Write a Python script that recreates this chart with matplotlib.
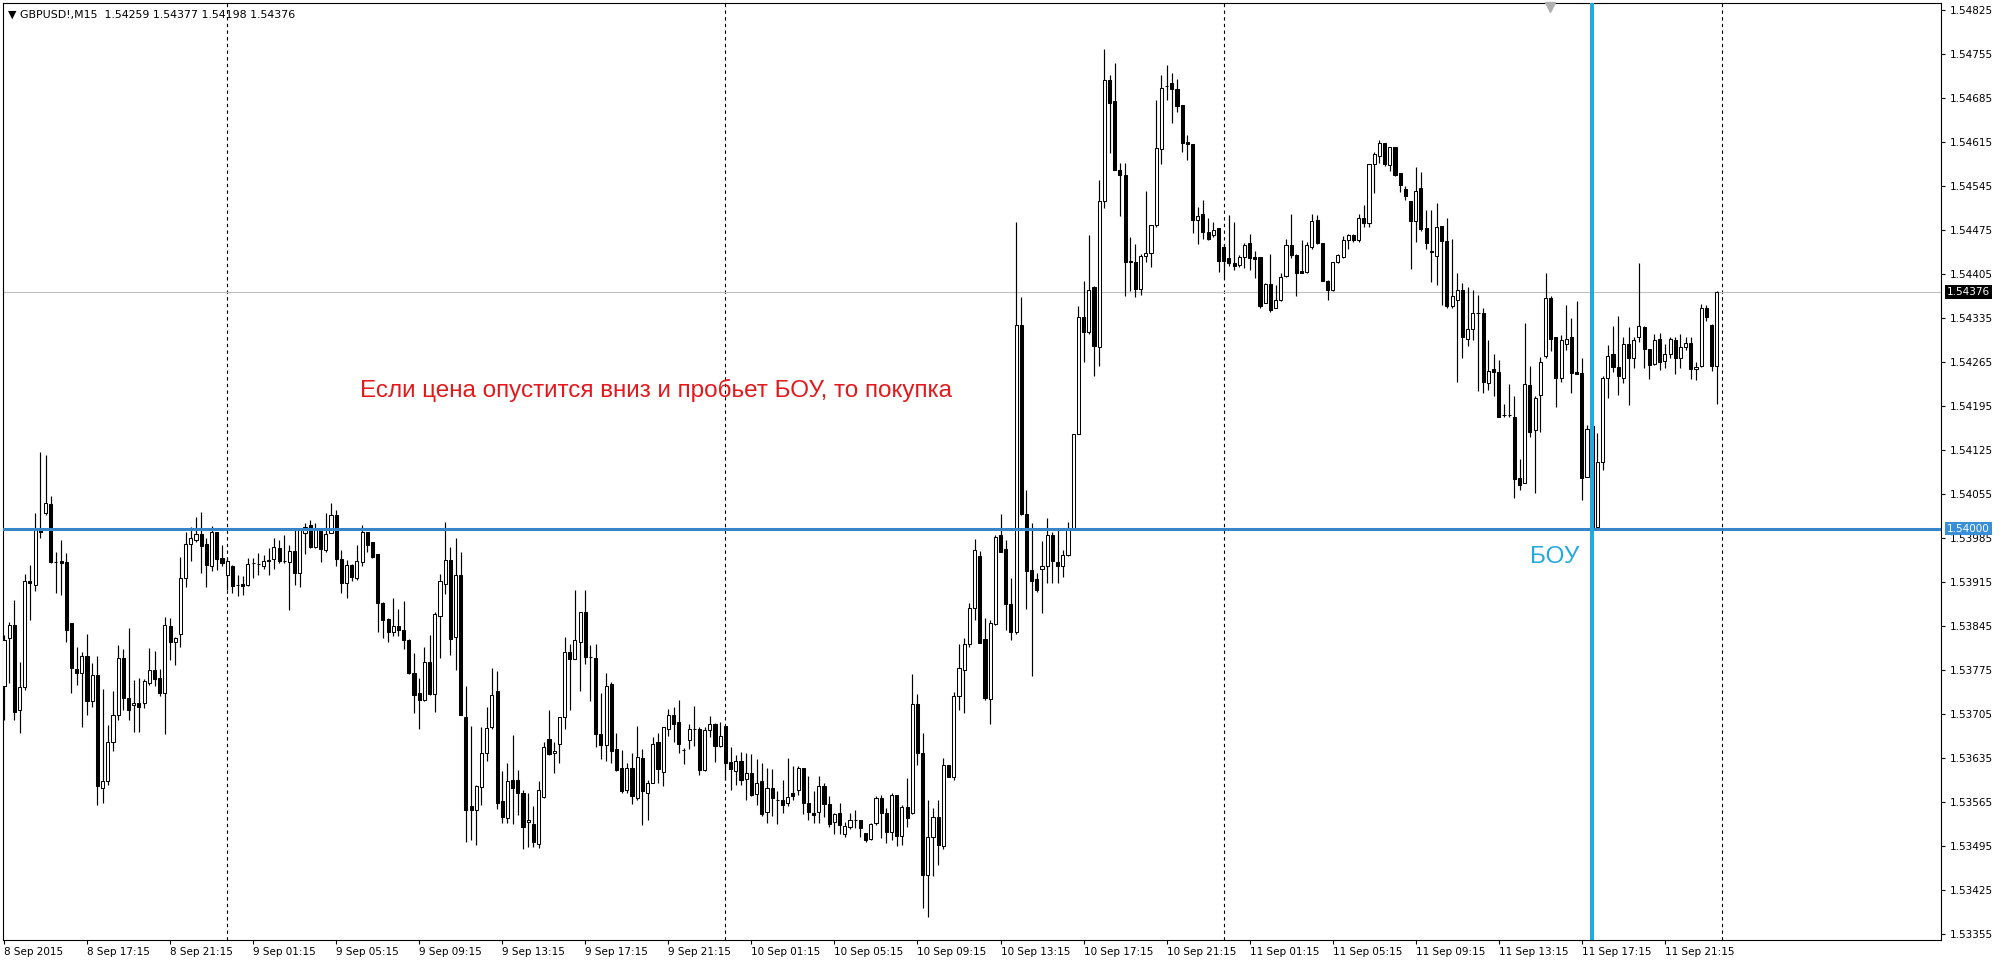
import matplotlib
matplotlib.use("Agg")
import matplotlib.pyplot as plt
import matplotlib.transforms as mtransforms
import numpy as np

header_text = "\u25bc GBPUSD!,M15  1.54259 1.54377 1.54198 1.54376"
note_text = "Если цена опустится вниз и пробьет БОУ, то покупка"
level_text = "БОУ"

opens = [
 1.53749, 1.53826, 1.53847, 1.53711, 1.53748, 1.53917, 1.53910, 1.53998, 1.54024, 1.54039,
 1.53946, 1.53948, 1.53946, 1.53849, 1.53777, 1.53770, 1.53798, 1.53725, 1.53767, 1.53588,
 1.53598, 1.53661, 1.53703, 1.53794, 1.53730, 1.53720, 1.53723, 1.53722, 1.53755, 1.53775,
 1.53762, 1.53738, 1.53845, 1.53819, 1.53833, 1.53921, 1.53975, 1.53982, 1.53992, 1.53975,
 1.53941, 1.53994, 1.53953, 1.53926, 1.53940, 1.53910, 1.53911, 1.53910, 1.53945, 1.53944,
 1.53941, 1.53950, 1.53951, 1.53969, 1.53948, 1.53946, 1.53965, 1.53929, 1.53993, 1.54005,
 1.53971, 1.53998, 1.53966, 1.53993, 1.54022, 1.53951, 1.53913, 1.53942, 1.53921, 1.53946,
 1.53994, 1.53978, 1.53959, 1.53882, 1.53856, 1.53836, 1.53845, 1.53839, 1.53823, 1.53771,
 1.53738, 1.53727, 1.53787, 1.53737, 1.53861, 1.53912, 1.53950, 1.53828, 1.53926, 1.53701,
 1.53559, 1.53552, 1.53589, 1.53643, 1.53684, 1.53742, 1.53566, 1.53540, 1.53600, 1.53600,
 1.53579, 1.53533, 1.53531, 1.53499, 1.53573, 1.53665, 1.53643, 1.53658, 1.53700, 1.53804,
 1.53792, 1.53820, 1.53868, 1.53796, 1.53794, 1.53674, 1.53656, 1.53753, 1.53649, 1.53620,
 1.53584, 1.53620, 1.53571, 1.53635, 1.53580, 1.53596, 1.53660, 1.53613, 1.53681, 1.53704,
 1.53693, 1.53648, 1.53664, 1.53682, 1.53682, 1.53616, 1.53680, 1.53690, 1.53654, 1.53686,
 1.53629, 1.53615, 1.53631, 1.53601, 1.53611, 1.53578, 1.53598, 1.53550, 1.53587, 1.53569,
 1.53568, 1.53563, 1.53579, 1.53585, 1.53619, 1.53564, 1.53548, 1.53550, 1.53590, 1.53562,
 1.53534, 1.53548, 1.53514, 1.53526, 1.53537, 1.53537, 1.53516, 1.53506, 1.53532, 1.53571,
 1.53548, 1.53517, 1.53577, 1.53511, 1.53558, 1.53547, 1.53721, 1.53643, 1.53449, 1.53509,
 1.53542, 1.53495, 1.53624, 1.53605, 1.53734, 1.53775, 1.53817, 1.53873, 1.53957, 1.53824,
 1.53729, 1.53848, 1.53990, 1.53967, 1.53880, 1.53835, 1.54323, 1.54023, 1.53934, 1.53919,
 1.53936, 1.53940, 1.53990, 1.53946, 1.53941, 1.53958, 1.54001, 1.54151, 1.54337, 1.54312,
 1.54384, 1.54289, 1.54520, 1.54713, 1.54679, 1.54570, 1.54562, 1.54426, 1.54424, 1.54381,
 1.54433, 1.54438, 1.54483, 1.54604, 1.54703, 1.54708, 1.54698, 1.54673, 1.54615, 1.54612,
 1.54490, 1.54500, 1.54472, 1.54467, 1.54478, 1.54448, 1.54430, 1.54422, 1.54419, 1.54432,
 1.54454, 1.54432, 1.54432, 1.54359, 1.54389, 1.54350, 1.54364, 1.54401, 1.54451, 1.54435,
 1.54410, 1.54408, 1.54448, 1.54491, 1.54454, 1.54394, 1.54380, 1.54424, 1.54432, 1.54458,
 1.54467, 1.54458, 1.54493, 1.54486, 1.54579, 1.54592, 1.54613, 1.54578, 1.54607, 1.54566,
 1.54539, 1.54521, 1.54489, 1.54541, 1.54477, 1.54442, 1.54433, 1.54481, 1.54457, 1.54354,
 1.54363, 1.54379, 1.54301, 1.54318, 1.54343, 1.54342, 1.54231, 1.54253, 1.54249, 1.54180,
 1.54180, 1.54177, 1.54080, 1.54073, 1.54228, 1.54156, 1.54212, 1.54274, 1.54366, 1.54304,
 1.54240, 1.54293, 1.54304, 1.54249, 1.54248, 1.54082, 1.54163, 1.54003, 1.54106, 1.54240,
 1.54277, 1.54256, 1.54240, 1.54293, 1.54271, 1.54304, 1.54321, 1.54285, 1.54261, 1.54302,
 1.54267, 1.54277, 1.54300, 1.54271, 1.54288, 1.54295, 1.54253, 1.54258, 1.54350, 1.54324,
 1.54259,
]

highs = [
 1.53830, 1.53852, 1.53887, 1.53787, 1.53928, 1.53942, 1.54024, 1.54122, 1.54117, 1.54051,
 1.53963, 1.53982, 1.53961, 1.53850, 1.53812, 1.53804, 1.53833, 1.53786, 1.53798, 1.53745,
 1.53688, 1.53742, 1.53815, 1.53808, 1.53842, 1.53759, 1.53762, 1.53760, 1.53810, 1.53805,
 1.53776, 1.53859, 1.53857, 1.53828, 1.53955, 1.53995, 1.54003, 1.54018, 1.54027, 1.53985,
 1.54004, 1.53995, 1.53974, 1.53955, 1.53942, 1.53926, 1.53924, 1.53953, 1.53953, 1.53961,
 1.53958, 1.53969, 1.53985, 1.53982, 1.53990, 1.53974, 1.53998, 1.54000, 1.54008, 1.54014,
 1.54008, 1.54000, 1.54024, 1.54040, 1.54030, 1.53966, 1.53950, 1.53943, 1.53974, 1.54006,
 1.53995, 1.53979, 1.53960, 1.53883, 1.53857, 1.53889, 1.53872, 1.53884, 1.53824, 1.53802,
 1.53762, 1.53812, 1.53831, 1.53868, 1.53928, 1.54010, 1.53971, 1.53985, 1.53962, 1.53750,
 1.53686, 1.53592, 1.53684, 1.53717, 1.53778, 1.53773, 1.53614, 1.53628, 1.53672, 1.53616,
 1.53585, 1.53579, 1.53559, 1.53598, 1.53660, 1.53711, 1.53661, 1.53701, 1.53828, 1.53817,
 1.53902, 1.53868, 1.53902, 1.53815, 1.53816, 1.53739, 1.53771, 1.53756, 1.53675, 1.53648,
 1.53627, 1.53643, 1.53686, 1.53649, 1.53600, 1.53669, 1.53675, 1.53684, 1.53713, 1.53717,
 1.53728, 1.53651, 1.53689, 1.53718, 1.53684, 1.53684, 1.53702, 1.53691, 1.53693, 1.53686,
 1.53652, 1.53640, 1.53645, 1.53643, 1.53642, 1.53633, 1.53628, 1.53619, 1.53617, 1.53582,
 1.53600, 1.53635, 1.53622, 1.53622, 1.53619, 1.53607, 1.53583, 1.53606, 1.53595, 1.53575,
 1.53548, 1.53564, 1.53534, 1.53548, 1.53553, 1.53537, 1.53516, 1.53532, 1.53574, 1.53577,
 1.53555, 1.53579, 1.53577, 1.53560, 1.53603, 1.53769, 1.53737, 1.53675, 1.53569, 1.53555,
 1.53569, 1.53635, 1.53624, 1.53740, 1.53817, 1.53826, 1.53881, 1.53983, 1.53965, 1.53857,
 1.53854, 1.53990, 1.54023, 1.53982, 1.53921, 1.54487, 1.54368, 1.54062, 1.54008, 1.53930,
 1.53980, 1.54017, 1.53995, 1.53997, 1.53966, 1.54010, 1.54151, 1.54354, 1.54393, 1.54466,
 1.54386, 1.54554, 1.54762, 1.54721, 1.54740, 1.54581, 1.54581, 1.54463, 1.54453, 1.54436,
 1.54536, 1.54483, 1.54681, 1.54721, 1.54737, 1.54725, 1.54714, 1.54673, 1.54626, 1.54612,
 1.54511, 1.54523, 1.54493, 1.54488, 1.54478, 1.54453, 1.54498, 1.54488, 1.54435, 1.54454,
 1.54468, 1.54442, 1.54432, 1.54390, 1.54436, 1.54387, 1.54406, 1.54461, 1.54500, 1.54436,
 1.54458, 1.54456, 1.54500, 1.54498, 1.54454, 1.54395, 1.54424, 1.54436, 1.54465, 1.54468,
 1.54469, 1.54500, 1.54514, 1.54579, 1.54599, 1.54617, 1.54613, 1.54607, 1.54607, 1.54566,
 1.54545, 1.54521, 1.54574, 1.54567, 1.54506, 1.54506, 1.54518, 1.54481, 1.54493, 1.54461,
 1.54407, 1.54391, 1.54384, 1.54379, 1.54371, 1.54350, 1.54300, 1.54277, 1.54268, 1.54198,
 1.54230, 1.54210, 1.54110, 1.54327, 1.54258, 1.54210, 1.54272, 1.54406, 1.54369, 1.54304,
 1.54308, 1.54355, 1.54334, 1.54362, 1.54271, 1.54165, 1.54210, 1.54152, 1.54242, 1.54292,
 1.54322, 1.54338, 1.54304, 1.54320, 1.54304, 1.54422, 1.54322, 1.54286, 1.54310, 1.54311,
 1.54293, 1.54304, 1.54304, 1.54309, 1.54304, 1.54304, 1.54265, 1.54357, 1.54355, 1.54325,
 1.54377,
]

lows = [
 1.53696, 1.53754, 1.53696, 1.53675, 1.53744, 1.53855, 1.53900, 1.53985, 1.54022, 1.53945,
 1.53897, 1.53895, 1.53820, 1.53738, 1.53751, 1.53685, 1.53704, 1.53717, 1.53561, 1.53563,
 1.53592, 1.53647, 1.53696, 1.53711, 1.53695, 1.53676, 1.53677, 1.53715, 1.53751, 1.53750,
 1.53733, 1.53674, 1.53791, 1.53783, 1.53811, 1.53907, 1.53948, 1.53979, 1.53930, 1.53907,
 1.53933, 1.53934, 1.53941, 1.53902, 1.53897, 1.53892, 1.53895, 1.53908, 1.53921, 1.53926,
 1.53935, 1.53926, 1.53935, 1.53945, 1.53945, 1.53871, 1.53910, 1.53907, 1.53960, 1.53969,
 1.53969, 1.53946, 1.53962, 1.53993, 1.53941, 1.53897, 1.53889, 1.53916, 1.53918, 1.53941,
 1.53963, 1.53953, 1.53836, 1.53826, 1.53820, 1.53829, 1.53829, 1.53808, 1.53769, 1.53706,
 1.53681, 1.53726, 1.53736, 1.53709, 1.53794, 1.53896, 1.53799, 1.53775, 1.53703, 1.53502,
 1.53505, 1.53497, 1.53561, 1.53630, 1.53681, 1.53554, 1.53532, 1.53532, 1.53531, 1.53545,
 1.53490, 1.53494, 1.53494, 1.53492, 1.53571, 1.53640, 1.53611, 1.53628, 1.53682, 1.53711,
 1.53792, 1.53741, 1.53785, 1.53725, 1.53652, 1.53633, 1.53631, 1.53627, 1.53615, 1.53580,
 1.53579, 1.53562, 1.53569, 1.53529, 1.53537, 1.53596, 1.53596, 1.53590, 1.53670, 1.53660,
 1.53643, 1.53626, 1.53650, 1.53655, 1.53608, 1.53614, 1.53668, 1.53629, 1.53653, 1.53600,
 1.53584, 1.53592, 1.53592, 1.53569, 1.53575, 1.53560, 1.53543, 1.53532, 1.53543, 1.53531,
 1.53547, 1.53559, 1.53568, 1.53576, 1.53546, 1.53537, 1.53532, 1.53532, 1.53541, 1.53525,
 1.53515, 1.53515, 1.53510, 1.53522, 1.53524, 1.53510, 1.53502, 1.53505, 1.53529, 1.53508,
 1.53500, 1.53505, 1.53495, 1.53497, 1.53526, 1.53546, 1.53624, 1.53396, 1.53383, 1.53447,
 1.53465, 1.53490, 1.53605, 1.53600, 1.53711, 1.53707, 1.53812, 1.53855, 1.53818, 1.53728,
 1.53689, 1.53847, 1.53962, 1.53839, 1.53822, 1.53832, 1.54021, 1.53872, 1.53766, 1.53899,
 1.53866, 1.53914, 1.53914, 1.53914, 1.53923, 1.53956, 1.53999, 1.54151, 1.54265, 1.54310,
 1.54243, 1.54258, 1.54510, 1.54597, 1.54570, 1.54497, 1.54370, 1.54377, 1.54368, 1.54372,
 1.54423, 1.54415, 1.54480, 1.54579, 1.54681, 1.54644, 1.54663, 1.54598, 1.54586, 1.54470,
 1.54453, 1.54460, 1.54458, 1.54464, 1.54408, 1.54398, 1.54417, 1.54411, 1.54415, 1.54414,
 1.54411, 1.54398, 1.54350, 1.54358, 1.54345, 1.54350, 1.54362, 1.54400, 1.54430, 1.54369,
 1.54406, 1.54407, 1.54444, 1.54453, 1.54393, 1.54364, 1.54377, 1.54422, 1.54430, 1.54444,
 1.54456, 1.54456, 1.54480, 1.54480, 1.54533, 1.54581, 1.54576, 1.54569, 1.54560, 1.54535,
 1.54522, 1.54412, 1.54455, 1.54473, 1.54444, 1.54392, 1.54387, 1.54355, 1.54350, 1.54350,
 1.54233, 1.54271, 1.54290, 1.54299, 1.54218, 1.54215, 1.54221, 1.54211, 1.54178, 1.54178,
 1.54178, 1.54049, 1.54062, 1.54072, 1.54146, 1.54056, 1.54154, 1.54271, 1.54283, 1.54193,
 1.54233, 1.54284, 1.54215, 1.54246, 1.54046, 1.54082, 1.54000, 1.54000, 1.54093, 1.54207,
 1.54249, 1.54212, 1.54232, 1.54197, 1.54255, 1.54297, 1.54255, 1.54237, 1.54260, 1.54252,
 1.54255, 1.54271, 1.54246, 1.54255, 1.54284, 1.54237, 1.54236, 1.54257, 1.54330, 1.54251,
 1.54198,
]

closes = [
 1.53822, 1.53847, 1.53709, 1.53748, 1.53917, 1.53913, 1.53998, 1.53995, 1.54041, 1.53946,
 1.53946, 1.53945, 1.53839, 1.53778, 1.53770, 1.53798, 1.53725, 1.53767, 1.53591, 1.53598,
 1.53661, 1.53703, 1.53794, 1.53730, 1.53711, 1.53723, 1.53716, 1.53757, 1.53775, 1.53760,
 1.53738, 1.53847, 1.53819, 1.53826, 1.53921, 1.53975, 1.53985, 1.53992, 1.53972, 1.53942,
 1.53994, 1.53951, 1.53945, 1.53948, 1.53909, 1.53910, 1.53908, 1.53943, 1.53945, 1.53944,
 1.53948, 1.53948, 1.53970, 1.53948, 1.53948, 1.53965, 1.53930, 1.53997, 1.54003, 1.53971,
 1.53998, 1.53967, 1.53992, 1.54022, 1.53951, 1.53914, 1.53942, 1.53923, 1.53949, 1.53994,
 1.53974, 1.53955, 1.53881, 1.53855, 1.53836, 1.53845, 1.53839, 1.53823, 1.53770, 1.53736,
 1.53727, 1.53787, 1.53737, 1.53864, 1.53917, 1.53950, 1.53824, 1.53926, 1.53704, 1.53553,
 1.53552, 1.53591, 1.53643, 1.53683, 1.53736, 1.53563, 1.53541, 1.53599, 1.53587, 1.53579,
 1.53526, 1.53537, 1.53502, 1.53584, 1.53653, 1.53642, 1.53647, 1.53701, 1.53804, 1.53792,
 1.53823, 1.53868, 1.53796, 1.53796, 1.53674, 1.53656, 1.53750, 1.53647, 1.53616, 1.53583,
 1.53620, 1.53574, 1.53636, 1.53582, 1.53596, 1.53657, 1.53617, 1.53684, 1.53704, 1.53689,
 1.53658, 1.53648, 1.53682, 1.53682, 1.53616, 1.53680, 1.53690, 1.53654, 1.53670, 1.53628,
 1.53617, 1.53631, 1.53600, 1.53612, 1.53576, 1.53596, 1.53546, 1.53587, 1.53571, 1.53569,
 1.53560, 1.53573, 1.53575, 1.53619, 1.53563, 1.53550, 1.53545, 1.53590, 1.53562, 1.53531,
 1.53546, 1.53529, 1.53527, 1.53537, 1.53537, 1.53524, 1.53505, 1.53530, 1.53571, 1.53547,
 1.53518, 1.53577, 1.53511, 1.53558, 1.53539, 1.53721, 1.53643, 1.53449, 1.53509, 1.53542,
 1.53497, 1.53624, 1.53605, 1.53734, 1.53778, 1.53817, 1.53873, 1.53966, 1.53818, 1.53730,
 1.53849, 1.53987, 1.53962, 1.53880, 1.53836, 1.54323, 1.54023, 1.53933, 1.53916, 1.53903,
 1.53940, 1.53990, 1.53948, 1.53941, 1.53958, 1.53999, 1.54151, 1.54337, 1.54312, 1.54379,
 1.54290, 1.54520, 1.54713, 1.54677, 1.54570, 1.54562, 1.54423, 1.54423, 1.54381, 1.54433,
 1.54438, 1.54483, 1.54605, 1.54701, 1.54703, 1.54698, 1.54672, 1.54613, 1.54611, 1.54490,
 1.54497, 1.54472, 1.54461, 1.54475, 1.54426, 1.54426, 1.54422, 1.54417, 1.54432, 1.54451,
 1.54430, 1.54428, 1.54354, 1.54389, 1.54348, 1.54364, 1.54400, 1.54451, 1.54435, 1.54407,
 1.54407, 1.54451, 1.54489, 1.54454, 1.54394, 1.54380, 1.54424, 1.54435, 1.54459, 1.54467,
 1.54458, 1.54493, 1.54486, 1.54579, 1.54596, 1.54613, 1.54579, 1.54607, 1.54562, 1.54546,
 1.54529, 1.54489, 1.54537, 1.54476, 1.54454, 1.54439, 1.54479, 1.54457, 1.54353, 1.54370,
 1.54379, 1.54305, 1.54318, 1.54343, 1.54343, 1.54233, 1.54251, 1.54249, 1.54178, 1.54180,
 1.54180, 1.54078, 1.54069, 1.54230, 1.54154, 1.54207, 1.54265, 1.54367, 1.54302, 1.54240,
 1.54299, 1.54302, 1.54248, 1.54246, 1.54080, 1.54159, 1.54003, 1.54106, 1.54240, 1.54274,
 1.54256, 1.54242, 1.54293, 1.54271, 1.54299, 1.54322, 1.54285, 1.54260, 1.54300, 1.54265,
 1.54277, 1.54301, 1.54271, 1.54288, 1.54295, 1.54253, 1.54257, 1.54350, 1.54336, 1.54258,
 1.54376,
]

time_tick_index = [0, 16, 32, 48, 64, 80, 96, 112, 128, 144, 160, 176, 192, 208, 224,
                   240, 256, 272, 288, 304, 320]
time_tick_labels = ["8 Sep 2015", "8 Sep 17:15", "8 Sep 21:15", "9 Sep 01:15", "9 Sep 05:15",
                    "9 Sep 09:15", "9 Sep 13:15", "9 Sep 17:15", "9 Sep 21:15", "10 Sep 01:15",
                    "10 Sep 05:15", "10 Sep 09:15", "10 Sep 13:15", "10 Sep 17:15", "10 Sep 21:15",
                    "11 Sep 01:15", "11 Sep 05:15", "11 Sep 09:15", "11 Sep 13:15", "11 Sep 17:15",
                    "11 Sep 21:15"]
day_separator_index = [43, 139, 235, 331]
price_ticks = [1.53355, 1.53425, 1.53495, 1.53565, 1.53635, 1.53705, 1.53775, 1.53845,
               1.53915, 1.53985, 1.54055, 1.54125, 1.54195, 1.54265, 1.54335, 1.54405,
               1.54475, 1.54545, 1.54615, 1.54685, 1.54755, 1.54825]
price_tick_labels = ["1.53355", "1.53425", "1.53495", "1.53565", "1.53635", "1.53705", "1.53775",
                     "1.53845", "1.53915", "1.53985", "1.54055", "1.54125", "1.54195", "1.54265",
                     "1.54335", "1.54405", "1.54475", "1.54545", "1.54615", "1.54685", "1.54755",
                     "1.54825"]
bid_price = 1.54376
level_price = 1.54000
signal_bar = 306
note_anchor = (68.6, 1.54220)
level_label_anchor = (294.0, 1.53954)

# ---------------------------------------------------------------
W, H = 2000, 968
fig = plt.figure(figsize=(W / 100, H / 100), dpi=100)
fig.patch.set_facecolor("white")
ax = fig.add_axes([3 / W, 28 / H, 1938 / W, 937 / H])
ax.set_facecolor("white")

o = np.array(opens); h = np.array(highs); l = np.array(lows); c = np.array(closes)
idx = np.arange(len(o))

ax.set_xlim(-0.19, 373.2)
ax.set_ylim(1.533458, 1.548355)

# grid (day separators)
for d in day_separator_index:
    ax.axvline(d, color="black", lw=0.8, ls=(0, (3, 3)), zorder=1)

# bid line
ax.axhline(bid_price, color="#c0c0c0", lw=0.8, zorder=1)

# candles
ax.vlines(idx, l, h, color="black", lw=0.85, zorder=2)
bull = c >= o
bottoms = np.minimum(o, c)
heights = np.abs(c - o)
face = np.where(bull, "white", "black")
ax.bar(idx, heights, bottom=bottoms, width=0.6, color=face, edgecolor="black",
       linewidth=0.75, zorder=3)

# level and signal lines
ax.axhline(level_price, color="#3585c8", lw=2.2, zorder=4)
ax.axvline(signal_bar, color="#22a9e0", lw=2.9, zorder=4)

# texts
ax.text(note_anchor[0], note_anchor[1], note_text, color="#e3191c", fontsize=17.5,
        family="Liberation Sans", ha="left", va="center", zorder=5)
ax.text(level_label_anchor[0], level_label_anchor[1], level_text, color="#22a9e0",
        fontsize=17.5, family="Liberation Sans", ha="left", va="center", zorder=5)

# axes styling
for s in ax.spines.values():
    s.set_color("black")
    s.set_linewidth(0.8)

ax.yaxis.tick_right()
ax.set_yticks(price_ticks)
ax.set_yticklabels(price_tick_labels)
ax.tick_params(axis="y", which="both", direction="out", length=3, width=0.8, pad=3,
               labelsize=7.5, colors="black")

ax.set_xticks(time_tick_index)
ax.set_xticklabels(time_tick_labels)
ax.tick_params(axis="x", direction="out", length=3, width=0.8, pad=2, labelsize=7.5)
for lab in ax.get_xticklabels():
    lab.set_ha("left")

# highlighted price labels on the scale
trans = mtransforms.blended_transform_factory(ax.transAxes, ax.transData)
xoff = 1.0 + 6 / 1938
ax.text(xoff, bid_price, "1.54376", transform=trans, ha="left", va="center",
        fontsize=7.5, color="white", zorder=10, clip_on=False,
        bbox=dict(boxstyle="square,pad=0.18", fc="black", ec="none"))
ax.text(xoff, level_price, "1.54000", transform=trans, ha="left", va="center",
        fontsize=7.5, color="white", zorder=10, clip_on=False,
        bbox=dict(boxstyle="square,pad=0.18", fc="#3a90d8", ec="none"))

# header
fig.text(8 / W, 1 - 15 / H, header_text, fontsize=7.9, color="black",
         ha="left", va="center")

# chart-shift marker
fig.lines.append(plt.Line2D([1550 / W], [1 - 7 / H], marker="v", markersize=7,
                            color="#b0b0b0", transform=fig.transFigure, linestyle="none"))

fig.savefig("out.png", dpi=100, facecolor="white")
